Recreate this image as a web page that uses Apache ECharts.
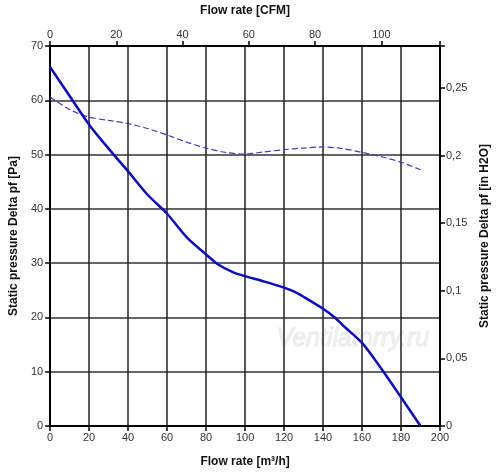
<!DOCTYPE html>
<html lang="en">
<head>
  <meta charset="UTF-8">
  <title>Fan curve</title>
  <style>
    body, html { margin: 0; padding: 0; background: #fff; }
    #chart { width: 500px; height: 473px; }
  </style>
</head>
<body>
  <div id="chart"></div>
  <script src="https://cdn.jsdelivr.net/npm/echarts@6/dist/echarts.min.js"></script>
  <script>
    // flow rate [m3/h] and static pressure [Pa]
    var pressureFlow = [0, 10, 20, 30, 40, 50, 60, 70, 80, 86, 94, 100, 110, 120, 125, 130, 140, 146, 150, 160, 170, 180, 190];
    var pressureVals = [66.1, 60.8, 55.5, 51.1, 46.9, 42.6, 39.1, 34.8, 31.6, 29.8, 28.3, 27.6, 26.6, 25.5, 24.8, 23.8, 21.6, 20.0, 18.6, 15.3, 10.5, 5.3, 0];
    // dashed curve
    var dashFlow = [0, 10, 20, 30, 40, 50, 60, 70, 80, 90, 100, 110, 120, 130, 140, 150, 160, 170, 180, 190];
    var dashVals = [60.6, 58.3, 56.9, 56.3, 55.7, 54.8, 53.6, 52.3, 51.2, 50.4, 50.1, 50.5, 50.9, 51.2, 51.4, 51.1, 50.4, 49.6, 48.6, 47.2];

    var PA_PER_INH2O = 249.09;
    var M3H_PER_CFM = 1.699;
    var font = 'Arial, "Liberation Sans", sans-serif';

    function zip(xs, ys) {
      return xs.map(function (x, i) { return [x, ys[i]]; });
    }

    function onStep(v, step) {
      var r = v / step;
      return Math.abs(r - Math.round(r)) < 1e-6;
    }

    var labelStyle = { color: '#333', fontSize: 11, fontFamily: font };
    var nameStyle = { color: '#111', fontSize: 12, fontWeight: 'bold', fontFamily: font };
    var lineStyle = { onZero: false, lineStyle: { color: '#000', width: 2 } };
    var tickStyle = { length: 5, lineStyle: { color: '#000', width: 1.5 } };

    var myChart = echarts.init(document.getElementById('chart'));
    var option = {
      animation: false,
      grid: { left: 49, right: 60, top: 45, bottom: 42 },
      xAxis: [{
        type: 'value',
        position: 'bottom',
        min: 0, max: 200, interval: 20,
        name: 'Flow rate [m³/h]',
        nameLocation: 'middle',
        nameGap: 30,
        nameTextStyle: nameStyle,
        axisLine: lineStyle,
        axisTick: tickStyle,
        axisLabel: Object.assign({ margin: 6 }, labelStyle),
        splitLine: { lineStyle: { color: '#222', width: 1.5 } }
      }, {
        type: 'value',
        position: 'top',
        min: 0, max: 200 / M3H_PER_CFM, interval: 20,
        name: 'Flow rate [CFM]',
        nameLocation: 'middle',
        nameGap: 29,
        nameTextStyle: nameStyle,
        axisLine: lineStyle,
        axisTick: tickStyle,
        axisLabel: Object.assign({
          margin: 6,
          formatter: function (v) { return onStep(v, 20) ? String(v) : ''; }
        }, labelStyle),
        splitLine: { show: false }
      }],
      yAxis: [{
        type: 'value',
        position: 'left',
        min: 0, max: 70, interval: 10,
        name: 'Static pressure Delta pf [Pa]',
        nameLocation: 'middle',
        nameGap: 29,
        nameTextStyle: nameStyle,
        axisLine: lineStyle,
        axisTick: tickStyle,
        axisLabel: Object.assign({ margin: 7 }, labelStyle),
        splitLine: { lineStyle: { color: '#333', width: 1.5 } }
      }, {
        type: 'value',
        position: 'right',
        min: 0, max: 70 / PA_PER_INH2O, interval: 0.05,
        name: 'Static pressure Delta pf [in H2O]',
        nameLocation: 'middle',
        nameGap: 38,
        nameTextStyle: nameStyle,
        axisLine: lineStyle,
        axisTick: tickStyle,
        axisLabel: Object.assign({
          margin: 6,
          formatter: function (v) {
            if (!onStep(v, 0.05)) return '';
            return String(Math.round(v * 100) / 100).replace('.', ',');
          }
        }, labelStyle),
        splitLine: { show: false }
      }],
      graphic: [{
        type: 'text',
        left: 276,
        top: 326,
        silent: true,
        style: {
          text: 'Ventilatorry.ru',
          font: 'italic 25px ' + font,
          fill: 'rgba(238,238,238,0.9)',
          stroke: 'rgba(200,200,200,0.5)',
          lineWidth: 0.8
        }
      }],
      series: [{
        type: 'line',
        xAxisIndex: 0,
        yAxisIndex: 0,
        data: zip(dashFlow, dashVals),
        smooth: 0.3,
        showSymbol: false,
        lineStyle: { color: '#3a3ad0', width: 1.2, type: [6, 3] }
      }, {
        type: 'line',
        xAxisIndex: 0,
        yAxisIndex: 0,
        data: zip(pressureFlow, pressureVals),
        smooth: 0.3,
        showSymbol: false,
        lineStyle: { color: '#0a0ad0', width: 2.5 }
      }]
    };
    myChart.setOption(option);
  </script>
</body>
</html>
